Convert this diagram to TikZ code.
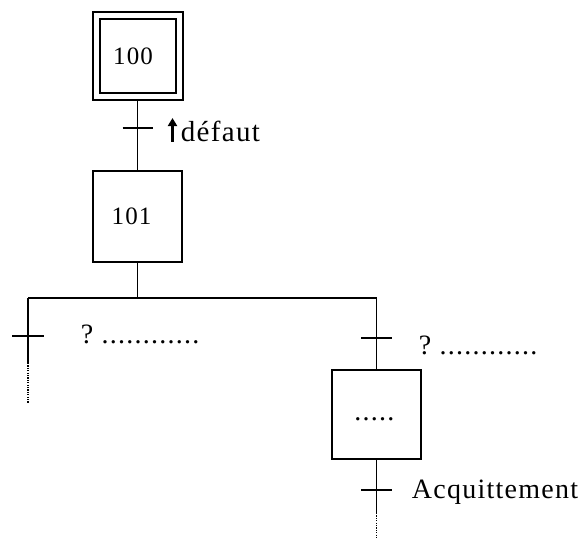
\documentclass[tikz,border=0pt]{standalone}
\usepackage{fontspec}
\setmainfont{Liberation Serif}[LetterSpace=4.5]
\usetikzlibrary{arrows.meta}
\begin{document}
\begin{tikzpicture}[x=1pt,y=-1pt,line width=1.9pt,
  stepbox/.style={draw,rectangle,inner sep=0pt,font=\fontsize{25}{25}\selectfont},
  initstep/.style={stepbox,double,double distance=5pt,line width=2pt,outer sep=4.5pt},
  cond/.style={anchor=base west,inner sep=0pt,font=\fontsize{28}{28}\selectfont},
  waitline/.style={line width=1.5pt,dash pattern=on 1.2pt off 1.2pt},
  edge/.style={line width=2.2pt,-{Triangle[length=8pt,width=9pt]}}]
\useasboundingbox (0,0) rectangle (586,539);

% steps
\node[initstep,minimum width=83pt,minimum height=81pt] (s100) at (137.5,56) {\hbox{100\kern9pt}};
\node[stepbox,minimum width=89pt,minimum height=91pt] (s101) at (137.5,216.5) {\hbox{101\kern12pt}};
\node[stepbox,minimum width=89pt,minimum height=89pt,font=\fontsize{28}{28}\selectfont] (s102) at (376.5,414.5) {\hbox{\strut.....\kern4pt}};

% junction points
\coordinate (t1) at (137.5,128);
\coordinate (j)  at (137.5,298);
\coordinate (jl) at (28,298);
\coordinate (jr) at (376.5,298);
\coordinate (t2) at (28,336);
\coordinate (l1) at (28,363);
\coordinate (l2) at (28,403);
\coordinate (t3) at (376.5,338);
\coordinate (t4) at (376.5,490);
\coordinate (b1) at (376.5,513);
\coordinate (b2) at (376.5,538);

% links
\draw (s100.south) -- (s101.north);
\draw (s101.south) -- (j);
\draw (jl) -- (jr);
\draw (jl) -- (l1);
\draw[waitline] (l1) -- (l2);
\draw (jr) -- (s102.north);
\draw (s102.south) -- (b1);
\draw[waitline] (b1) -- (b2);

% transitions
\draw ([xshift=-15pt]t1) -- ([xshift=15pt]t1);
\draw ([xshift=-16pt]t2) -- ([xshift=16pt]t2);
\draw ([xshift=-15.5pt]t3) -- ([xshift=15.5pt]t3);
\draw ([xshift=-15.5pt]t4) -- ([xshift=15.5pt]t4);

% receptivities (rising edge of "défaut")
\coordinate (e1) at (172.5,141.5);
\coordinate (e2) at (172.5,118);
\draw[edge] (e1) -- (e2);
\node[cond,font=\fontsize{29}{29}\selectfont] (c1) at (180,141.5) {défaut};
\node[cond] (c2) at (80,343) {?~............};
\node[cond] (c3) at (418,354) {?~............};
\node[cond] (c4) at (411,498) {Acquittement};
\end{tikzpicture}
\end{document}
